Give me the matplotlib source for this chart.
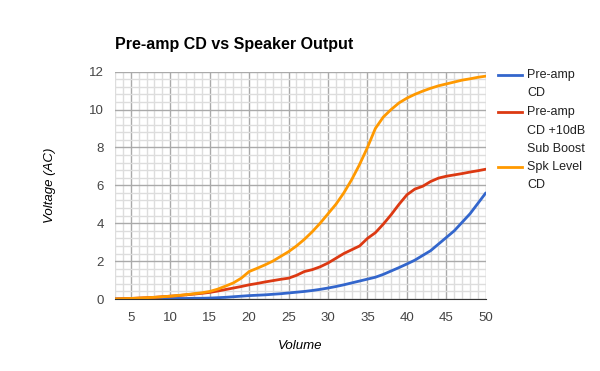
import matplotlib.pyplot as plt
from matplotlib.lines import Line2D
import numpy as np

plt.rcParams['font.family'] = ['Liberation Sans', 'DejaVu Sans']

volume = list(range(3, 51))

# one value per volume step 3..50
preamp_cd = [0, 0, 0, 0.01, 0.01, 0.01, 0.02, 0.02, 0.03, 0.03, 0.04, 0.04, 0.05,
             0.07, 0.09, 0.12, 0.15, 0.18, 0.2, 0.22, 0.25, 0.28, 0.32, 0.36, 0.4,
             0.45, 0.51, 0.58, 0.66, 0.75, 0.85, 0.95, 1.05, 1.15, 1.3, 1.48, 1.66,
             1.85, 2.05, 2.3, 2.55, 2.9, 3.25, 3.6, 4.05, 4.5, 5.05, 5.6]
preamp_boost = [0, 0.02, 0.03, 0.05, 0.07, 0.09, 0.12, 0.15, 0.18, 0.22, 0.26, 0.3, 0.35,
                0.42, 0.5, 0.58, 0.66, 0.75, 0.82, 0.9, 0.97, 1.04, 1.1, 1.25, 1.45,
                1.55, 1.7, 1.9, 2.15, 2.4, 2.6, 2.8, 3.2, 3.5, 3.95, 4.45, 5.0,
                5.5, 5.8, 5.95, 6.2, 6.38, 6.48, 6.55, 6.62, 6.7, 6.77, 6.85]
spk_level = [0, 0.02, 0.03, 0.05, 0.07, 0.09, 0.12, 0.15, 0.19, 0.23, 0.28, 0.33, 0.4,
             0.52, 0.68, 0.85, 1.1, 1.45, 1.62, 1.8, 2.0, 2.25, 2.5, 2.8,
             3.15, 3.55, 4.0, 4.5, 5.0, 5.6, 6.3, 7.1, 8.0, 9.0, 9.6, 10.0,
             10.35, 10.6, 10.8, 10.97, 11.12, 11.25, 11.35, 11.45, 11.55, 11.62, 11.7, 11.76]

labels = ['Pre-amp\nCD', 'Pre-amp\nCD +10dB\nSub Boost', 'Spk Level\nCD']
colors = ['#3366cc', '#dc3912', '#ff9900']

W, H = 600, 371
fig = plt.figure(figsize=(W / 100, H / 100), dpi=100)
ax = fig.add_axes([0.1917, 0.194, 0.618, 0.613])

for y, c in zip([preamp_cd, preamp_boost, spk_level], colors):
    ax.plot(volume, y, color=c, lw=2, solid_capstyle='round')

ax.set_xlim(3, 50)
ax.set_ylim(0, 12)
ax.set_xticks([5, 10, 15, 20, 25, 30, 35, 40, 45, 50])
ax.set_xticks(np.arange(3, 51, 1), minor=True)
ax.set_yticks([0, 2, 4, 6, 8, 10, 12])
ax.set_yticks(np.arange(0, 12.01, 0.4), minor=True)
ax.grid(which='major', color='#aaaaaa', lw=1)
ax.grid(which='minor', color='#dddddd', lw=1)
ax.set_axisbelow(True)
for s in ['top', 'right', 'left']:
    ax.spines[s].set_visible(False)
ax.spines['bottom'].set_color('#333333')
ax.tick_params(which='both', length=0, labelsize=9.5, colors='#444444', pad=8)
ax.tick_params(axis='x', pad=9)

ax.set_xlabel('Volume', style='italic', fontsize=9.5, labelpad=12)
ax.set_ylabel('Voltage (AC)', style='italic', fontsize=9.5, labelpad=24)
fig.text(115 / W, 1 - 45 / H, 'Pre-amp CD vs Speaker Output', fontsize=11.5,
         fontweight='bold', va='center')

# legend on the right, drawn by hand so the line sits beside the first text line
entry_top = [75, 112, 167]
for lab, c, y0 in zip(labels, colors, entry_top):
    yf = 1 - y0 / H
    fig.add_artist(Line2D([498 / W, 522 / W], [yf, yf], color=c, lw=2))
    for i, line in enumerate(lab.split('\n')):
        fig.text(527 / W, 1 - (y0 + i * 18.5) / H, line, fontsize=9,
                 color='#222222', va='center', ha='left')

fig.savefig('out.png', dpi=100)
